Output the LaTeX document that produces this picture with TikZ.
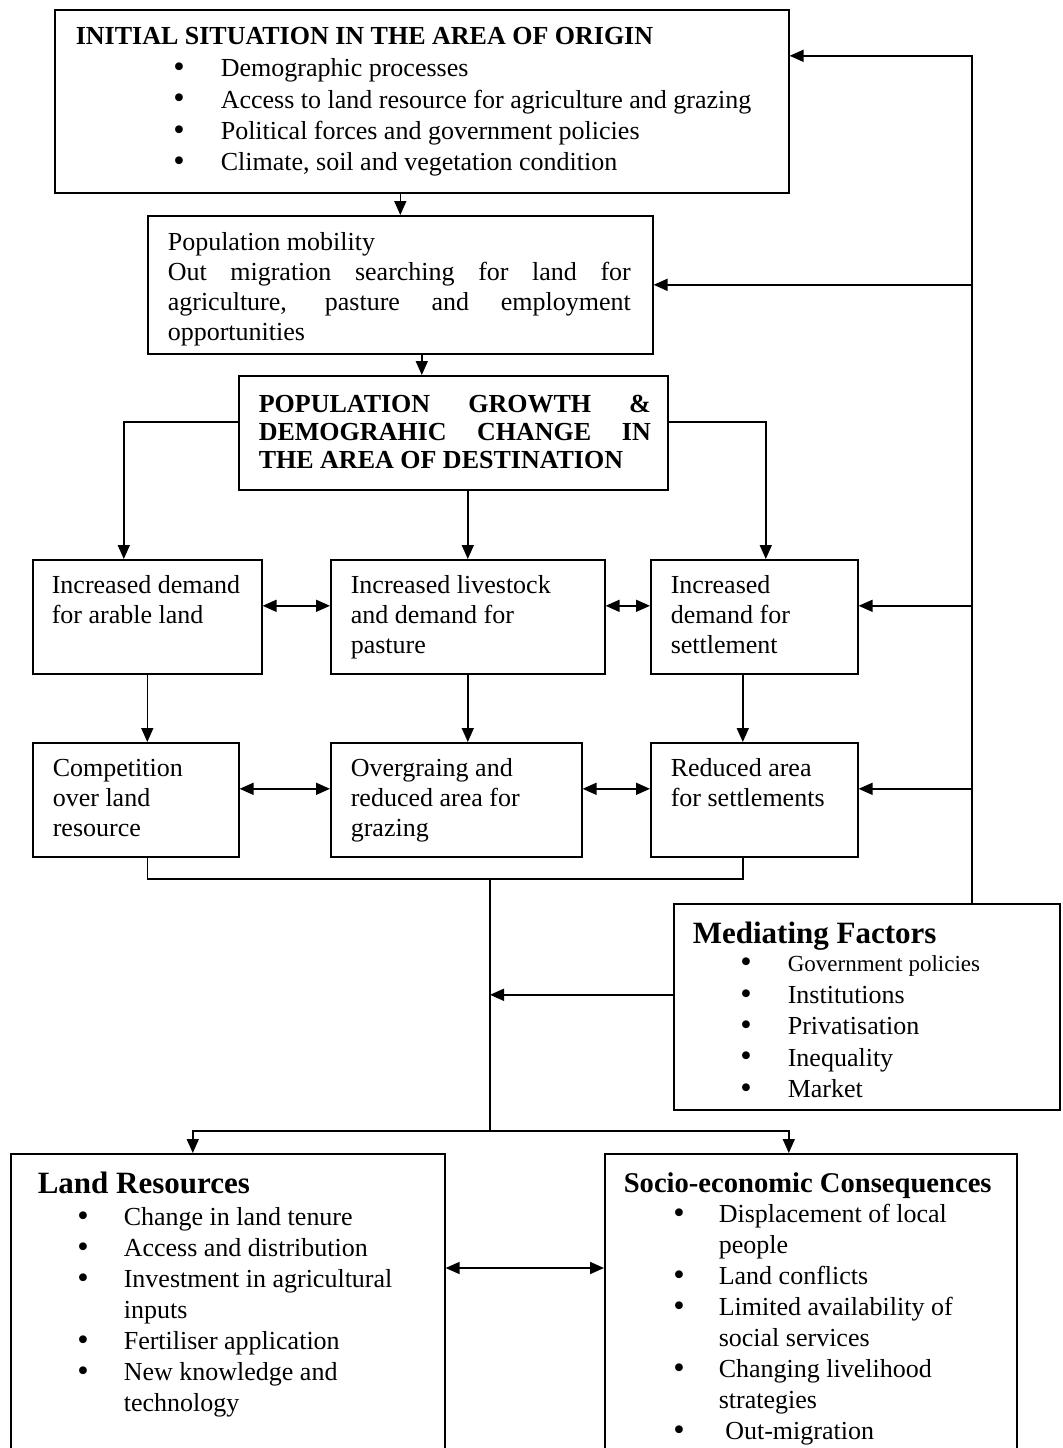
\documentclass[tikz,border=0pt]{standalone}
\usepackage{fontspec}
\setmainfont{Liberation Serif}
\usetikzlibrary{arrows.meta}

\newcommand{\itembul}[2]{\hspace*{#1}\makebox[#2][l]{\raisebox{-0.4pt}{\scalebox{1.25}{\textbullet}}}}
\newcommand{\jline}[2]{\makebox[#1][s]{\spaceskip=.25em plus 1fil\relax #2}}

\begin{document}
\begin{tikzpicture}[x=0.5pt, y=-0.5pt, line width=0.8pt,
  >={Triangle[length=7pt, width=6pt]},
  box/.style={draw, anchor=north west, inner ysep=0pt, align=left,
    font=\fontsize{13}{15}\selectfont,
    execute at begin node={\spaceskip=0pt\xspaceskip=0pt\relax}}]
  \useasboundingbox (0, 0) rectangle (1062, 1448);
  \clip (0, 0) rectangle (1062, 1448);

  % boxes
  \node (init) at (54, 9) [box, text width=346pt, inner xsep=10.5pt, text height=17.3pt, text depth=74.2pt,
    font=\fontsize{13}{15.7}\selectfont]
    {\textbf{INITIAL SITUATION IN THE AREA OF ORIGIN}\\[0.4pt]
     \itembul{48.75pt}{23.75pt}Demographic processes\\
     \itembul{48.75pt}{23.75pt}Access to land resource for agriculture and grazing\\
     \itembul{48.75pt}{23.75pt}Political forces and government policies\\
     \itembul{48.75pt}{23.75pt}Climate, soil and vegetation condition};
  \node (mob) at (147, 215) [box, text width=232.5pt, inner xsep=10pt, text height=17.5pt, text depth=51.5pt]
    {Population mobility\\
     \jline{231.5pt}{Out migration searching for land for}\\
     \jline{231.5pt}{agriculture, pasture and employment}\\
     opportunities};
  \node (growth) at (238, 375) [box, text width=194.5pt, inner xsep=10pt, text height=18.3pt, text depth=38.7pt,
    font=\fontsize{13}{14}\selectfont\bfseries]
    {\jline{196pt}{POPULATION GROWTH \&}\\
     \jline{196pt}{DEMOGRAHIC CHANGE IN}\\
     THE AREA OF DESTINATION};

  \node (arable) at (32, 559) [box, text width=95.5pt, inner xsep=9.5pt, text height=17pt, text depth=40pt]
    {Increased demand\\ for arable land};
  \node (livestock) at (330, 559) [box, text width=117pt, inner xsep=10pt, text height=17pt, text depth=40pt]
    {Increased livestock\\ and demand for\\ pasture};
  \node (settle) at (650, 559) [box, text width=83.5pt, inner xsep=10pt, text height=17pt, text depth=40pt]
    {Increased\\ demand for\\ settlement};

  \node (compet) at (32, 742) [box, text width=83pt, inner xsep=10pt, text height=17pt, text depth=40pt]
    {Competition\\ over land\\ resource};
  \node (overgraz) at (330, 742) [box, text width=105.5pt, inner xsep=10pt, text height=17pt, text depth=40pt]
    {Overgraing and\\ reduced area for\\ grazing};
  \node (reduced) at (650, 742) [box, text width=83.5pt, inner xsep=10pt, text height=17pt, text depth=40pt]
    {Reduced area\\ for settlements};

  \node (mediate) at (673, 903) [box, text width=174pt, inner xsep=9.5pt, text height=20pt, text depth=83pt,
    font=\fontsize{13}{15.7}\selectfont]
    {{\fontsize{15.5}{15.7}\selectfont\bfseries Mediating Factors}\\[-1.7pt]
     \itembul{23.75pt}{23.75pt}{\fontsize{11.5}{15.7}\selectfont Government policies}\\
     \itembul{23.75pt}{23.75pt}Institutions\\
     \itembul{23.75pt}{23.75pt}Privatisation\\
     \itembul{23.75pt}{23.75pt}Inequality\\
     \itembul{23.75pt}{23.75pt}Market};

  \node (landres) at (10, 1153) [box, text width=190pt, inner xsep=13.5pt, text height=20pt, text depth=153.5pt,
    font=\fontsize{13}{15.5}\selectfont]
    {{\fontsize{15.5}{15.5}\selectfont\bfseries Land Resources}\\[0.5pt]
     \itembul{19.75pt}{23.25pt}Change in land tenure\\
     \itembul{19.75pt}{23.25pt}Access and distribution\\
     \itembul{19.75pt}{23.25pt}Investment in agricultural\\
     \hspace*{43pt}inputs\\
     \itembul{19.75pt}{23.25pt}Fertiliser application\\
     \itembul{19.75pt}{23.25pt}New knowledge and\\
     \hspace*{43pt}technology};
  \node (socio) at (604, 1153) [box, text width=187pt, inner xsep=9.5pt, text height=19.5pt, text depth=154pt,
    font=\fontsize{13}{15.5}\selectfont]
    {{\fontsize{14.3}{15.5}\selectfont\bfseries Socio-economic Consequences}\\[-0.5pt]
     \itembul{24.75pt}{22.75pt}Displacement of local\\
     \hspace*{47.5pt}people\\
     \itembul{24.75pt}{22.75pt}Land conflicts\\
     \itembul{24.75pt}{22.75pt}Limited availability of\\
     \hspace*{47.5pt}social services\\
     \itembul{24.75pt}{22.75pt}Changing livelihood\\
     \hspace*{47.5pt}strategies\\
     \itembul{24.75pt}{22.75pt}\ Out-migration};

  % downward chain
  \draw[->] (mob.north |- init.south) -- (mob.north);
  \draw[->] ([xshift=10.75pt]mob.south) -- ([xshift=-15.75pt]growth.north);
  \draw[->] ([yshift=5.5pt]growth.west) -| ([xshift=-11.75pt]arable.north);
  \draw[->] (livestock.north |- growth.south) -- (livestock.north);
  \draw[->] ([yshift=5.5pt]growth.east) -| ([xshift=5.75pt]settle.north);

  \draw[<->] ([yshift=5.5pt]arable.east) -- ([yshift=5.5pt]livestock.west);
  \draw[<->] ([yshift=5.5pt]livestock.east) -- ([yshift=5.5pt]settle.west);
  \draw[->] (arable.south) -- (arable.south |- compet.north);
  \draw[->] (livestock.south) -- (livestock.south |- overgraz.north);
  \draw[->] ([xshift=-5.75pt]settle.south) -- ([xshift=-5.75pt]reduced.north);
  \draw[<->] ([yshift=5.5pt]compet.east) -- ([yshift=5.5pt]overgraz.west);
  \draw[<->] ([yshift=5.5pt]overgraz.east) -- ([yshift=5.5pt]reduced.west);

  % merge and split
  \coordinate (merge) at (490, 879);
  \coordinate (split) at (490, 1131);
  \draw (arable.south |- compet.south) |- (merge) -| ([xshift=-5.75pt]reduced.south);
  \draw (merge) -- (split);
  \draw[->] ([yshift=6pt]mediate.west) -- ([yshift=6pt]mediate.west -| merge);
  \draw[->] (split) -| ([xshift=-17.5pt]landres.north);
  \draw[->] (split) -| ([xshift=-11pt]socio.north);
  \draw[<->] ([yshift=-57.5pt]landres.north east) -- ([yshift=-57.5pt]socio.north west);

  % feedback from mediating factors
  \coordinate (fb) at ([xshift=52.5pt]mediate.north);
  \draw[->] (fb) |- ([yshift=22.75pt]init.east);
  \draw[->] (mob.east -| fb) -- (mob.east);
  \draw[->] ([yshift=5.5pt]settle.east -| fb) -- ([yshift=5.5pt]settle.east);
  \draw[->] ([yshift=5.5pt]reduced.east -| fb) -- ([yshift=5.5pt]reduced.east);
\end{tikzpicture}
\end{document}
